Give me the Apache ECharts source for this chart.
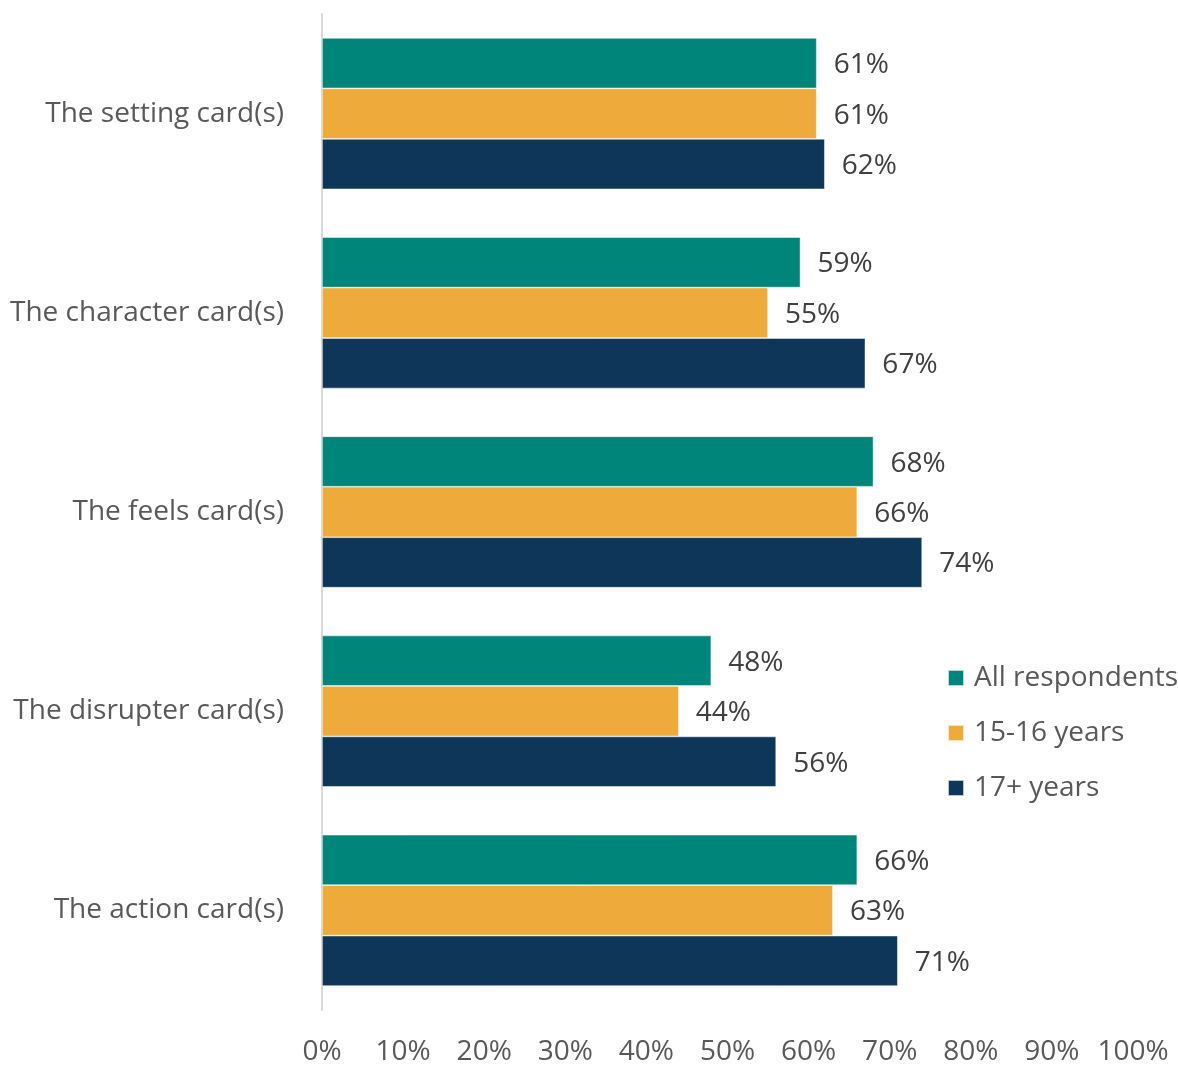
<!DOCTYPE html>
<html>
<head>
<meta charset="utf-8">
<script src="https://cdn.jsdelivr.net/npm/echarts@6/dist/echarts.min.js"></script>
<style>
  html, body { margin: 0; padding: 0; background: #fff; }
  #chart { width: 1178px; height: 1066px; }
</style>
</head>
<body>
<div id="chart"></div>
<script>
// Card types, top to bottom
const categories = [
  'The setting card(s)',
  'The character card(s)',
  'The feels card(s)',
  'The disrupter card(s)',
  'The action card(s)'
];

// Share of respondents (%) per group
const allRespondents = [61, 59, 68, 48, 66];
const age15to16 = [61, 55, 66, 44, 63];
const age17plus = [62, 67, 74, 56, 71];

const seriesNames = ['All respondents', '15-16 years', '17+ years'];
const seriesColors = ['#00857A', '#EEAB3C', '#0E3659'];
const seriesValues = [allRespondents, age15to16, age17plus];

const xTicks = [0, 10, 20, 30, 40, 50, 60, 70, 80, 90, 100];

const FONT = '"Open Sans", Lato, sans-serif';
const FS = 28;

const chart = echarts.init(document.getElementById('chart'));

chart.setOption({
  backgroundColor: '#ffffff',
  animation: false,
  textStyle: { fontFamily: FONT },
  grid: { left: 322, right: 45, top: 14, bottom: 52, containLabel: false },
  legend: {
    orient: 'vertical',
    left: 947,
    top: 663,
    padding: 0,
    itemWidth: 16,
    itemHeight: 16,
    itemGap: 25,
    icon: 'rect',
    textStyle: { fontFamily: FONT, fontSize: FS, lineHeight: 30, color: '#595959', padding: [0, 0, 0, 5] },
    data: seriesNames
  },
  xAxis: {
    type: 'value',
    min: 0,
    max: 100,
    interval: 10,
    splitLine: { show: false },
    axisLine: { show: false },
    axisTick: { show: false },
    axisLabel: {
      fontFamily: FONT,
      fontSize: FS,
      color: '#595959',
      margin: 28,
      formatter: v => (xTicks.includes(v) ? v + '%' : '')
    }
  },
  yAxis: {
    type: 'category',
    inverse: true,
    data: categories,
    axisLine: { show: true, lineStyle: { color: '#d9d9d9', width: 2 } },
    axisTick: { show: false },
    axisLabel: { fontFamily: FONT, fontSize: FS, color: '#595959', margin: 38 }
  },
  series: seriesNames.map((name, i) => ({
    name,
    type: 'bar',
    data: seriesValues[i],
    barGap: '0%',
    barCategoryGap: '24%',
    itemStyle: { color: seriesColors[i], borderColor: 'rgba(255,255,255,0.7)', borderWidth: 0.7 },
    label: {
      show: true,
      position: 'right',
      distance: 17,
      offset: [0, 2],
      fontFamily: FONT,
      fontSize: FS,
      color: '#404040',
      formatter: p => p.value + '%'
    }
  }))
});
</script>
</body>
</html>
